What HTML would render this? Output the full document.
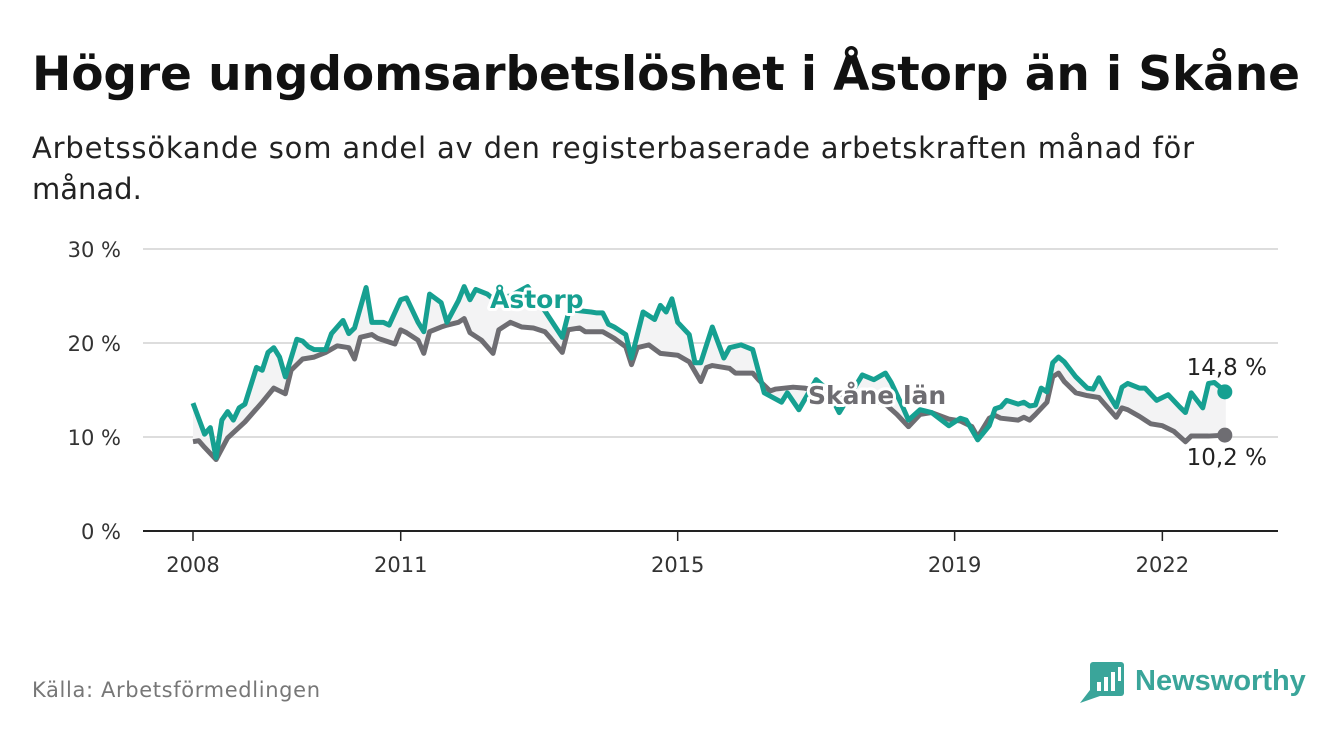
<!DOCTYPE html>
<html><head><meta charset="utf-8"><style>
body{margin:0;width:1340px;height:734px;background:#fff;font-family:"Liberation Sans","DejaVu Sans",sans-serif;overflow:hidden}
</style></head><body>
<svg width="1340" height="734" xmlns="http://www.w3.org/2000/svg" id="chart">
<text x="32" y="90" font-size="47" font-weight="bold" fill="#111" font-family="DejaVu Sans, sans-serif" textLength="1268">Högre ungdomsarbetslöshet i Åstorp än i Skåne</text>
<text x="32" y="158" font-size="29" fill="#222" font-family="DejaVu Sans, sans-serif" textLength="1162">Arbetssökande som andel av den registerbaserade arbetskraften månad för</text>
<text x="32" y="199" font-size="29" fill="#222" font-family="DejaVu Sans, sans-serif">månad.</text>
<g id="grid"></g><g id="marks"></g><g id="labels"></g>
<text x="32" y="697" font-size="21" fill="#777" font-family="DejaVu Sans, sans-serif" textLength="288">Källa: Arbetsförmedlingen</text>
<g>
<rect x="1090" y="662" width="34" height="34" rx="3" fill="#3aa59a"/>
<path d="M1090 690 L1080 703 L1100 696 Z" fill="#3aa59a"/>
<rect x="1097" y="682" width="4" height="9" fill="#fff"/><rect x="1104" y="677" width="4" height="14" fill="#fff"/><rect x="1111" y="672" width="4" height="19" fill="#fff"/><rect x="1118" y="667" width="3" height="14" fill="#fff"/>
<text x="1135" y="690" font-size="29" font-weight="bold" fill="#3aa59a" font-family="Liberation Sans, sans-serif">Newsworthy</text>
</g>
</svg>
<script>
const astMonths=[0,2,3,4,5,6,7,8,9,11,12,13,14,15,16,18,19,20,21,23,24,26,27,28,30,31,33,34,36,37,39,40,41,43,44,46,47,48,49,51,52,55,58,61,64,65,66,69,70,71,72,73,75,76,78,80,81,82,83,84,86,87,88,90,92,93,95,97,99,102,103,105,108,110,112,116,118,120,121,123,124,126,128,131,133,134,136,138,139,140,141,143,144,145,146,147,148,149,150,151,153,155,156,157,158,160,161,162,164,165,167,169,171,172,173,175,176,177,179];
const astValues=[13.6,10.3,11.0,7.8,11.8,12.7,11.8,13.1,13.5,17.4,17.1,19.0,19.5,18.5,16.4,20.4,20.2,19.6,19.3,19.3,21.0,22.4,21.0,21.6,25.9,22.2,22.2,21.9,24.6,24.8,22.2,21.2,25.2,24.3,22.2,24.5,26.0,24.6,25.7,25.2,24.7,25.0,26.0,23.4,20.6,23.0,23.5,23.3,23.2,23.2,22.0,21.7,20.9,18.4,23.3,22.5,24.0,23.3,24.7,22.2,20.9,17.9,17.9,21.7,18.4,19.5,19.8,19.3,14.7,13.7,14.7,12.9,16.1,15.0,12.6,16.6,16.1,16.8,15.8,13.2,11.8,12.9,12.6,11.2,12.0,11.8,9.7,11.2,13.0,13.2,13.9,13.5,13.7,13.3,13.4,15.2,14.8,17.9,18.5,18.0,16.4,15.2,15.1,16.3,15.2,13.2,15.3,15.7,15.2,15.2,13.9,14.5,13.2,12.6,14.7,13.1,15.7,15.8,14.8];
const skMonths=[0,1,2,4,6,9,12,14,15,16,17,19,21,23,25,27,28,29,31,32,35,36,37,39,40,41,43,44,46,47,48,50,52,53,55,57,59,61,62,64,65,67,68,71,73,75,76,77,79,81,84,86,88,89,90,92,93,94,97,98,100,101,104,106,109,113,117,120,122,124,126,128,131,133,135,136,138,139,140,143,144,145,146,148,149,150,151,153,155,157,158,160,161,162,164,166,168,170,172,173,176,179];
const skValues=[9.5,9.6,8.9,7.6,9.9,11.6,13.7,15.2,14.9,14.6,17.1,18.3,18.5,19.0,19.7,19.5,18.3,20.6,20.9,20.5,19.9,21.4,21.1,20.3,18.9,21.2,21.7,21.9,22.2,22.6,21.1,20.3,18.9,21.4,22.2,21.7,21.6,21.2,20.5,19.0,21.4,21.6,21.2,21.2,20.5,19.6,17.7,19.5,19.8,18.9,18.7,18.0,15.9,17.4,17.6,17.4,17.3,16.8,16.8,16.1,14.9,15.1,15.3,15.2,14.8,14.5,14.0,13.5,12.4,11.1,12.4,12.6,11.9,11.7,11.1,10.0,12.0,12.3,12.0,11.8,12.1,11.8,12.4,13.7,16.4,16.8,15.9,14.7,14.4,14.2,13.5,12.1,13.1,12.9,12.2,11.4,11.2,10.6,9.5,10.1,10.1,10.2];
const yTicks=[0,10,20,30];
const yTickLabels=["0 %","10 %","20 %","30 %"];
const xTickMonths=[0,36,84,132,168];
const xTickLabels=["2008","2011","2015","2019","2022"];
const endLabels=["14,8 %","10,2 %"];

const NS="http://www.w3.org/2000/svg";
const X=m=>193+m*5.77, Y=v=>531-v*9.4;
function mk(tag,attrs,parent,text){const e=document.createElementNS(NS,tag);for(const k in attrs)e.setAttribute(k,attrs[k]);if(text!=null)e.textContent=text;parent.appendChild(e);return e;}
const grid=document.getElementById('grid'),marks=document.getElementById('marks'),labels=document.getElementById('labels');
yTicks.forEach((t,i)=>{
  const l=mk('line',{x1:143,x2:1278,y1:Y(t),y2:Y(t),stroke:t===0?'#222':'#ddd','stroke-width':2},grid);
  
  
  const tx=mk('text',{x:121,y:Y(t)+8,'text-anchor':'end','font-size':21,fill:'#333','font-family':'DejaVu Sans, sans-serif'},grid,yTickLabels[i]);
  
  
});
xTickMonths.forEach((m,i)=>{
  const l=mk('line',{x1:X(m),x2:X(m),y1:531,y2:541,stroke:'#222','stroke-width':1.5},grid);
  
  
  const tx=mk('text',{x:X(m),y:572,'text-anchor':'middle','font-size':21,fill:'#333','font-family':'DejaVu Sans, sans-serif'},grid,xTickLabels[i]);
  
  
});
const aPts=astMonths.map((m,i)=>[X(m),Y(astValues[i])]);
const sPts=skMonths.map((m,i)=>[X(m),Y(skValues[i])]);
const area=mk('path',{d:'M'+aPts.map(p=>p.join(',')).join('L')+'L'+sPts.slice().reverse().map(p=>p.join(',')).join('L')+'Z',fill:'#f3f3f4'},marks);


const sl=mk('path',{d:'M'+sPts.map(p=>p.join(',')).join('L'),fill:'none',stroke:'#6e6d72','stroke-width':5,'stroke-linejoin':'round'},marks);


const al=mk('path',{d:'M'+aPts.map(p=>p.join(',')).join('L'),fill:'none',stroke:'#16a091','stroke-width':5,'stroke-linejoin':'round'},marks);


const aLast=aPts[aPts.length-1], sLast=sPts[sPts.length-1];
const ad=mk('circle',{cx:aLast[0]-1,cy:aLast[1],r:7.5,fill:'#16a091'},marks);


const sd=mk('circle',{cx:sLast[0]-1,cy:sLast[1],r:7.5,fill:'#6e6d72'},marks);


const st={'font-size':25,'font-weight':'bold','font-family':'DejaVu Sans, sans-serif',stroke:'#fff','stroke-width':6,'paint-order':'stroke','stroke-linejoin':'round'};
const la=mk('text',Object.assign({x:490,y:308,fill:'#16a091'},st),labels,'Åstorp');


const ls=mk('text',Object.assign({x:808,y:404,fill:'#6e6d72'},st),labels,'Skåne län');


const ea=mk('text',{x:1267,y:375,'text-anchor':'end','font-size':23,fill:'#222','font-family':'DejaVu Sans, sans-serif'},labels,endLabels[0]);


const es=mk('text',{x:1267,y:465,'text-anchor':'end','font-size':23,fill:'#222','font-family':'DejaVu Sans, sans-serif'},labels,endLabels[1]);


</script>
</body></html>
